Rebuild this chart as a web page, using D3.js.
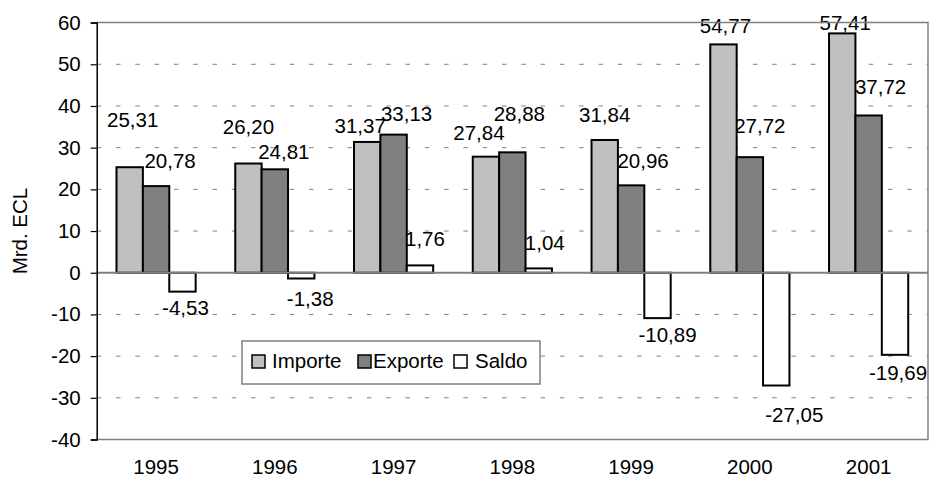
<!DOCTYPE html>
<html>
<head>
<meta charset="utf-8">
<script src="https://cdn.jsdelivr.net/npm/d3@7"></script>
<style>
  body { margin: 0; background: #fff; }
  text { font-family: "Liberation Sans", Arial, sans-serif; font-size: 20.5px; fill: #000; }
</style>
</head>
<body>
<script>
(function (d3) {
  "use strict";

  /***** Data *****/
  var years = ["1995", "1996", "1997", "1998", "1999", "2000", "2001"];
  var seriesNames = ["Importe", "Exporte", "Saldo"];
  var importe = [25.31, 26.20, 31.37, 27.84, 31.84, 54.77, 57.41];
  var exporte = [20.78, 24.81, 33.13, 28.88, 20.96, 27.72, 37.72];
  var saldo = [-4.53, -1.38, 1.76, 1.04, -10.89, -27.05, -19.69];
  var yTicks = [-40, -30, -20, -10, 0, 10, 20, 30, 40, 50, 60];

  // hand-placed value labels in the original: shift from the bar end (px)
  var labelShift = {
    Importe: [[3, -40], [0, -30], [-7, -9], [-7, -17], [0, -18], [2, -11], [3, -3]],
    Exporte: [[14, -18], [9, -10], [13, -14], [7, -31], [12, -17], [10, -24], [12, -21]],
    Saldo: [[3, 23], [9, 28], [5, -19], [6, -18], [10, 24], [18, 36], [3, 25]]
  };

  /***** Configuration *****/
  var width = 929, height = 479;
  var plot = { left: 96.7, right: 928, top: 22.6, bottom: 439.5 };
  var fills = { Importe: "#c0c0c0", Exporte: "#808080", Saldo: "#ffffff" };
  var grey = "#808080";

  var table = years.map(function (yr, i) {
    return { year: yr, values: [
      { key: "Importe", value: importe[i], i: i },
      { key: "Exporte", value: exporte[i], i: i },
      { key: "Saldo", value: saldo[i], i: i }
    ] };
  });

  /***** Scales *****/
  var x0 = d3.scaleBand().domain(years).range([plot.left, plot.right]);
  var x1 = d3.scaleBand().domain(seriesNames).range([0, x0.bandwidth()])
    .paddingInner(0).paddingOuter(0.75);
  var y = d3.scaleLinear().domain([-40, 60]).range([plot.bottom, plot.top]);

  var fmt = d3.formatLocale({ decimal: ",", thousands: ".", grouping: [3], currency: ["", ""], minus: "-" });
  var valueFormat = fmt.format(".2f");
  var tickFormat = fmt.format("d");

  var svg = d3.select("body").append("svg")
    .attr("width", width)
    .attr("height", height);

  /***** Gridlines *****/
  svg.append("g").selectAll("line")
    .data(yTicks.filter(function (t) { return t > -40 && t < 60 && t !== 0; }))
    .enter().append("line")
    .attr("x1", plot.left).attr("x2", plot.right)
    .attr("y1", function (d) { return y(d); })
    .attr("y2", function (d) { return y(d); })
    .attr("stroke", grey)
    .attr("stroke-width", 1)
    .attr("stroke-dasharray", "4.5,14.8");

  /***** Value labels (under the bars, as in the original) *****/
  var groups = svg.append("g").selectAll("g")
    .data(table).enter().append("g")
    .attr("transform", function (d) { return "translate(" + x0(d.year) + ",0)"; });

  groups.selectAll("text")
    .data(function (d) { return d.values; })
    .enter().append("text")
    .attr("text-anchor", "middle")
    .attr("x", function (d) { return x1(d.key) + x1.bandwidth() / 2 + labelShift[d.key][d.i][0]; })
    .attr("y", function (d) { return y(d.value) + labelShift[d.key][d.i][1]; })
    .text(function (d) { return valueFormat(d.value); });

  /***** Bars *****/
  groups.selectAll("rect")
    .data(function (d) { return d.values; })
    .enter().append("rect")
    .attr("x", function (d) { return x1(d.key); })
    .attr("y", function (d) { return y(Math.max(0, d.value)); })
    .attr("width", x1.bandwidth())
    .attr("height", function (d) { return Math.abs(y(d.value) - y(0)); })
    .attr("fill", function (d) { return fills[d.key]; })
    .attr("stroke", "#000")
    .attr("stroke-width", 2);

  /***** Frame and zero line *****/
  svg.append("path")
    .attr("d", "M" + plot.left + "," + plot.top + "H" + plot.right + "V" + plot.bottom + "H" + plot.left)
    .attr("fill", "none")
    .attr("stroke", grey)
    .attr("stroke-width", 1.5);
  svg.append("line")
    .attr("x1", plot.left).attr("x2", plot.right)
    .attr("y1", y(0)).attr("y2", y(0))
    .attr("stroke", grey)
    .attr("stroke-width", 2);

  /***** Axes *****/
  var yAxis = d3.axisLeft(y).tickValues(yTicks).tickSize(6).tickPadding(10).tickFormat(tickFormat);
  var gy = svg.append("g")
    .attr("transform", "translate(" + plot.left + ",0)")
    .call(yAxis);
  gy.select(".domain").attr("stroke", "#000").attr("stroke-width", 1.5);
  gy.selectAll(".tick line").attr("stroke", "#000").attr("stroke-width", 1.2);
  gy.selectAll("text").attr("fill", "#000");
  gy.attr("font-size", null).attr("font-family", null);

  var xAxis = d3.axisBottom(x0).tickSize(0).tickPadding(20);
  var gx = svg.append("g")
    .attr("transform", "translate(0," + plot.bottom + ")")
    .call(xAxis);
  gx.select(".domain").remove();
  gx.selectAll("text").attr("fill", "#000");
  gx.attr("font-size", null).attr("font-family", null);

  svg.append("text")
    .attr("transform", "translate(27," + ((plot.top + plot.bottom) / 2) + ") rotate(-90)")
    .attr("text-anchor", "middle")
    .text("Mrd. ECL");

  /***** Legend *****/
  var legend = svg.append("g").attr("transform", "translate(242,341)");
  legend.append("rect")
    .attr("width", 298).attr("height", 43)
    .attr("fill", "#fff")
    .attr("stroke", grey)
    .attr("stroke-width", 1.5);
  var legendX = [10, 116, 212];
  var legendGap = [20, 15, 21];
  var items = legend.selectAll("g.item")
    .data(seriesNames).enter().append("g")
    .attr("class", "item")
    .attr("transform", function (d, i) { return "translate(" + legendX[i] + ",0)"; });
  items.append("rect")
    .attr("y", 14).attr("width", 13).attr("height", 13)
    .attr("fill", function (d) { return fills[d]; })
    .attr("stroke", "#000")
    .attr("stroke-width", 1.5);
  items.append("text")
    .attr("x", function (d, i) { return legendGap[i]; })
    .attr("y", 27)
    .text(function (d) { return d; });

})(d3);
</script>
</body>
</html>
